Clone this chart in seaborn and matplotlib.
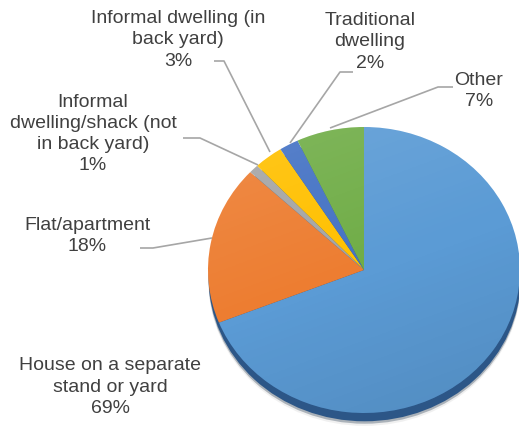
import numpy as np
import matplotlib
matplotlib.use("Agg")
import matplotlib.pyplot as plt
from matplotlib.patches import Ellipse
import seaborn as sns

# Dwelling types, clockwise from 12 o'clock
categories = [
    "House on a separate\nstand or yard",
    "Flat/apartment",
    "Informal\ndwelling/shack (not\nin back yard)",
    "Informal dwelling (in\nback yard)",
    "Traditional\ndwelling",
    "Other",
]
shares = [69, 18, 1, 3, 2, 7]
colors = ["#5b9bd5", "#ed7d31", "#a5a5a5", "#ffc000", "#4472c4", "#70ad47"]

sns.set_theme(style="white")
plt.rcParams["font.family"] = ["Liberation Sans", "DejaVu Sans"]

W, H = 519, 434
fig = plt.figure(figsize=(W / 100, H / 100), dpi=100)

# overlay axes in pixel coordinates for labels and leader lines
ov = fig.add_axes([0, 0, 1, 1], zorder=3)
ov.set_xlim(0, W)
ov.set_ylim(H, 0)
ov.axis("off")

# pie axes (slightly flattened ellipse); extra room below for the rim
ylo = -1.12
px0, px1, py0 = 208, 520, 127
ry = 143.0
py1 = py0 + ry * (1 - ylo)
pa = fig.add_axes([px0 / W, 1 - py1 / H, (px1 - px0) / W, (py1 - py0) / H], zorder=2)

# drop shadow / rim under the pie
for dy, a, c in [(0.09, 0.10, "#6f6f6f"), (0.075, 0.35, "#2b3f55"), (0.058, 1.0, "#2c5687")]:
    pa.add_patch(Ellipse((0.004, -dy), 2.0, 2.0, color=c, alpha=a, zorder=0, lw=0))

wedges, _ = pa.pie(shares, colors=colors, startangle=90, counterclock=False,
                   radius=1.0, wedgeprops=dict(linewidth=0), frame=False)
pa.set_xlim(-1, 1)
pa.set_ylim(ylo, 1)
pa.set_aspect("auto")
pa.axis("off")

# soft light-to-dark shading clipped to the pie
clip = Ellipse((0, 0), 2.0, 2.0, transform=pa.transData, facecolor="none", lw=0)
pa.add_patch(clip)
yy, xx = np.mgrid[1:-1:200j, -1:1:200j]
t = (yy - xx * 0.4)
shade = np.zeros((200, 200, 4))
light = np.clip(t, 0, None) / 1.4
dark = np.clip(-t, 0, None) / 1.4
shade[..., :3] = np.where(t[..., None] > 0, 1.0, 0.0)
shade[..., 3] = 0.12 * light + 0.10 * dark
im = pa.imshow(shade, extent=(-1, 1, -1, 1), zorder=5, aspect="auto")
im.set_clip_path(clip)

# labels with percentages
fs = 14
tc = "#404040"
label_pos = [
    (110, 387),
    (87, 236),
    (93, 134),
    (178, 40),
    (370, 42),
    (479, 91),
]
for cat, v, (x, y) in zip(categories, shares, label_pos):
    ov.text(x, y, f"{cat}\n{v}%", ha="center", va="center", fontsize=fs,
            color=tc, linespacing=1.33)

# leader lines
lc = "#a6a6a6"
leaders = [
    [(140, 248), (153, 248), (212, 238)],
    [(183, 138), (200, 138), (258, 165)],
    [(214, 61), (224, 61), (270, 152)],
    [(353, 72), (340, 72), (290, 143)],
    [(453, 87), (438, 87), (330, 128)],
]
for pts in leaders:
    xs, ys = zip(*pts)
    ov.plot(xs, ys, color=lc, lw=1.2, solid_capstyle="butt")

fig.savefig("out.png", dpi=100, facecolor="white")
